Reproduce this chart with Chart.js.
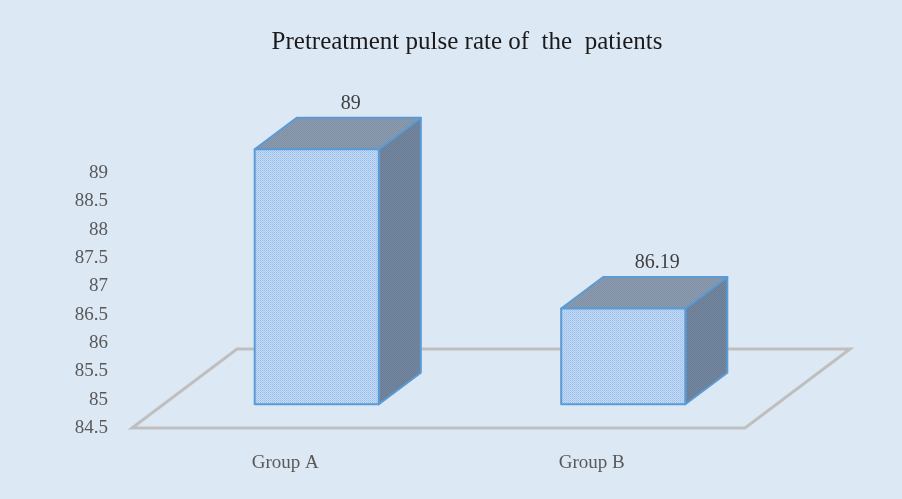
<!DOCTYPE html>
<html>
<head>
<meta charset="utf-8">
<script src="https://cdn.jsdelivr.net/npm/chart.js@4/dist/chart.umd.min.js"></script>
<style>
  html, body { margin: 0; padding: 0; background: #ffffff; }
  #wrap { width: 902px; height: 499px; background: #dde8f5; }
</style>
</head>
<body>
<div id="wrap"><canvas id="pulseChart"></canvas></div>
<script>
var groups = ['Group A', 'Group B'];
var pulseRates = [89, 86.19];
var yTicks = [84.5, 85, 85.5, 86, 86.5, 87, 87.5, 88, 88.5, 89];

// depth of the 3d floor, in pixels
var depthX = 105;
var depthY = -79;
var serif = '"Liberation Serif", "Times New Roman", serif';

function makeDots(a, b, c) {
    var p = document.createElement('canvas');
    p.width = 2;
    p.height = 2;
    var g = p.getContext('2d');
    g.fillStyle = a; g.fillRect(0, 0, 1, 1);
    g.fillStyle = b; g.fillRect(1, 0, 1, 1);
    g.fillStyle = b; g.fillRect(0, 1, 1, 1);
    g.fillStyle = c; g.fillRect(1, 1, 1, 1);
    return p;
}

var box3d = {
    id: 'box3d',
    beforeDatasetsDraw: function (chart) {
        var a = chart.chartArea;
        var ctx = chart.ctx;
        ctx.save();
        ctx.strokeStyle = '#bfbfbf';
        ctx.lineWidth = 3;
        ctx.beginPath();
        ctx.moveTo(a.left, a.bottom);
        ctx.lineTo(a.right, a.bottom);
        ctx.lineTo(a.right + depthX, a.bottom + depthY);
        ctx.lineTo(a.left + depthX, a.bottom + depthY);
        ctx.closePath();
        ctx.stroke();
        ctx.restore();
    },
    afterDatasetsDraw: function (chart) {
        var ctx = chart.ctx;
        var yScale = chart.scales.y;
        var floor = yScale.getPixelForValue(yScale.min);
        var meta = chart.getDatasetMeta(0);
        var front = ctx.createPattern(makeDots('#9bbfeb', '#c3d9f4', '#a8c8ee'), 'repeat');
        var topFill = ctx.createPattern(makeDots('#8292a7', '#8c9bae', '#7d8ea4'), 'repeat');
        var sideFill = ctx.createPattern(makeDots('#6b7f98', '#74869d', '#687c95'), 'repeat');
        var fx = depthX * 0.3, fy = depthY * 0.3;
        var bx = depthX * 0.4, by = depthY * 0.4;
        ctx.save();
        meta.data.forEach(function (bar, i) {
            var l = bar.x - bar.width / 2 + fx;
            var r = bar.x + bar.width / 2 + fx;
            var t = bar.y + fy;
            var b = floor + fy;
            ctx.lineWidth = 2;
            ctx.strokeStyle = '#5b9bd5';
            ctx.lineJoin = 'round';
            // side
            ctx.beginPath();
            ctx.moveTo(r, t);
            ctx.lineTo(r + bx, t + by);
            ctx.lineTo(r + bx, b + by);
            ctx.lineTo(r, b);
            ctx.closePath();
            ctx.fillStyle = sideFill;
            ctx.fill();
            ctx.stroke();
            // top
            ctx.beginPath();
            ctx.moveTo(l, t);
            ctx.lineTo(l + bx, t + by);
            ctx.lineTo(r + bx, t + by);
            ctx.lineTo(r, t);
            ctx.closePath();
            ctx.fillStyle = topFill;
            ctx.fill();
            ctx.stroke();
            // front
            ctx.fillStyle = front;
            ctx.fillRect(l, t, r - l, b - t);
            ctx.strokeRect(l, t, r - l, b - t);
            // value label
            ctx.fillStyle = '#404040';
            ctx.font = '20px ' + serif;
            ctx.textAlign = 'center';
            ctx.textBaseline = 'middle';
            ctx.fillText(String(pulseRates[i]), bar.x + fx + bx - 8, t + by - 14);
        });
        ctx.restore();
    }
};

new Chart(document.getElementById('pulseChart'), {
    type: 'bar',
    data: {
        labels: groups,
        datasets: [{
            data: pulseRates,
            backgroundColor: 'rgba(0,0,0,0)',
            borderWidth: 0,
            barPercentage: 0.405,
            categoryPercentage: 1
        }]
    },
    options: {
        responsive: true,
        maintainAspectRatio: false,
        animation: false,
        events: [],
        layout: {
            padding: { left: 32, right: 0, top: 0, bottom: 0 }
        },
        plugins: {
            legend: { display: false },
            tooltip: { enabled: false },
            title: {
                display: true,
                text: 'Pretreatment pulse rate of  the  patients',
                color: '#1a1a1a',
                font: { family: serif, size: 25, weight: 'normal' },
                padding: { top: 27, bottom: 116 }
            }
        },
        scales: {
            x: {
                grid: { display: false, drawTicks: false },
                border: { display: false },
                ticks: {
                    color: '#595959',
                    padding: 24,
                    font: { family: serif, size: 19 }
                },
                afterFit: function (scale) { scale.height = 71; }
            },
            y: {
                min: yTicks[0],
                max: yTicks[yTicks.length - 1],
                beginAtZero: false,
                grid: { display: false, drawTicks: false },
                border: { display: false },
                afterBuildTicks: function (scale) {
                    scale.ticks = yTicks.map(function (v) { return { value: v }; });
                },
                ticks: {
                    color: '#595959',
                    padding: 24,
                    font: { family: serif, size: 19 },
                    callback: function (v) { return String(v); }
                },
                afterFit: function (scale) { scale.width = 100; }
            },
            // empty right axis that keeps room for the floor's depth
            side: {
                position: 'right',
                grid: { display: false, drawTicks: false },
                border: { display: false },
                ticks: { display: false },
                afterFit: function (scale) { scale.width = 157; }
            }
        }
    },
    plugins: [box3d]
});
</script>
</body>
</html>
